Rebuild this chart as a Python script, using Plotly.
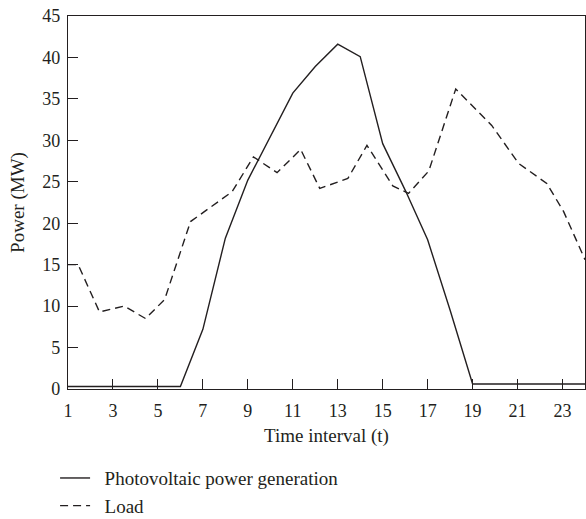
import plotly.graph_objects as go

# Photovoltaic power generation (MW), time intervals 1..24
pv_t = list(range(1, 25))
pv_mw = [0.3, 0.3, 0.3, 0.3, 0.3, 0.3, 7.2, 18.2, 25.2, 30.4, 35.7, 38.9,
         41.6, 40.1, 29.6, 24.0, 18.0, 9.5, 0.6, 0.6, 0.6, 0.6, 0.6, 0.6]

# Load (MW), vertex positions as drawn in the reference
load_t = [1, 1.45, 2.4, 3.5, 4.45, 5.3, 6.45, 8.3, 9.25, 10.3, 11.35, 12.2,
          13.45, 14.3, 15.45, 16.15, 17.05, 18.25, 19.85, 21.05, 22.3, 23.05, 24]
load_mw = [15.0, 15.0, 9.3, 10.0, 8.5, 10.8, 20.2, 23.8, 28.0, 26.1, 28.9, 24.2,
           25.4, 29.4, 24.5, 23.6, 26.3, 36.2, 31.8, 27.2, 24.8, 21.4, 15.6]

x_ticks = list(range(1, 24, 2))
y_ticks = list(range(0, 46, 5))

FONT = "Liberation Serif"
INK = "#231f20"

fig = go.Figure()
fig.add_trace(go.Scatter(x=pv_t, y=pv_mw, mode="lines",
                         name="\u2002Photovoltaic power generation",
                         line=dict(color=INK, width=1.4)))
fig.add_trace(go.Scatter(x=load_t, y=load_mw, mode="lines", name="\u2002Load",
                         line=dict(color=INK, width=1.4, dash="8px,5px")))

fig.update_layout(
    width=586, height=519,
    margin=dict(l=68, r=1, t=16, b=130, autoexpand=False),
    paper_bgcolor="white", plot_bgcolor="white",
    font=dict(family=FONT, size=18, color=INK),
    showlegend=True,
    legend=dict(x=-0.025, y=-0.188, xanchor="left", yanchor="top",
                orientation="v", font=dict(family=FONT, size=19, color=INK),
                bgcolor="rgba(0,0,0,0)", tracegroupgap=0, itemwidth=30),
    xaxis=dict(range=[1, 24], tickmode="array", tickvals=x_ticks,
               automargin=False,
               ticks="inside", ticklen=10, tickcolor=INK, tickwidth=1.2,
               ticklabelstandoff=5,
               tickfont=dict(family=FONT, size=18, color=INK),
               showline=True, linecolor=INK, linewidth=1.4, mirror=True,
               showgrid=False, zeroline=False,
               title=dict(text="Time interval (t)", standoff=8,
                          font=dict(family=FONT, size=19, color=INK))),
    yaxis=dict(range=[0, 45], tickmode="array", tickvals=y_ticks,
               automargin=False,
               ticks="inside", ticklen=10, tickcolor=INK, tickwidth=1.2,
               ticklabelstandoff=3,
               tickfont=dict(family=FONT, size=18, color=INK),
               showline=True, linecolor=INK, linewidth=1.4, mirror=True,
               showgrid=False, zeroline=False,
               title=dict(text="Power (MW)", standoff=12,
                          font=dict(family=FONT, size=19, color=INK))),
)

fig.write_html("out.html")
